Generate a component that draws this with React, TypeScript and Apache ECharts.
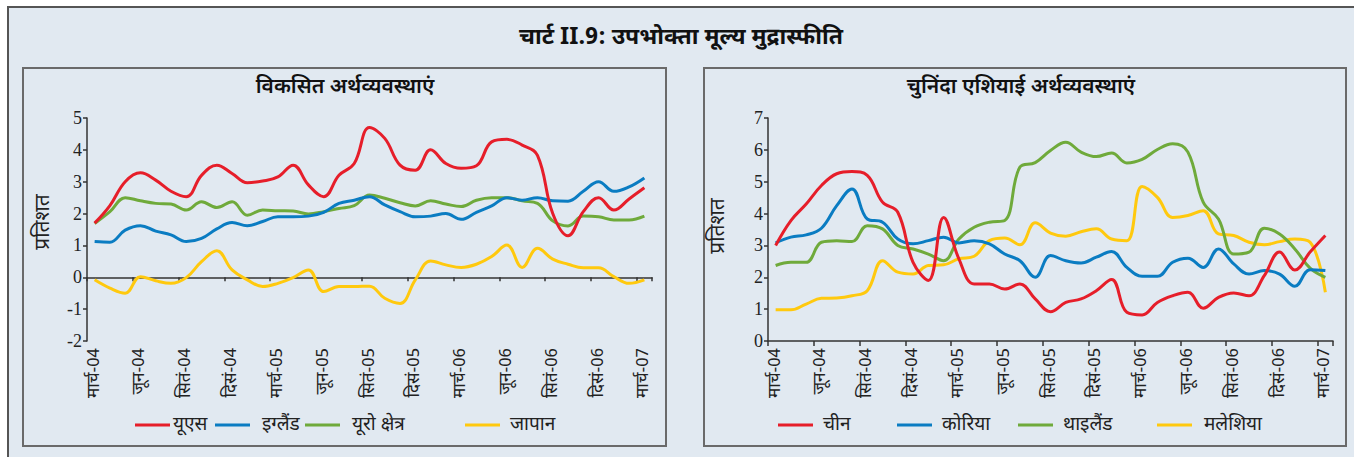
import React, { useEffect, useRef } from "react";
import * as echarts from "echarts";

const months = [
  "मार्च-04", "अप्रै-04", "मई-04", "जून-04", "जुला-04", "अग-04", "सितं-04", "अक्टू-04", "नवं-04", "दिसं-04",
  "जन-05", "फर-05", "मार्च-05", "अप्रै-05", "मई-05", "जून-05", "जुला-05", "अग-05", "सितं-05", "अक्टू-05", "नवं-05", "दिसं-05",
  "जन-06", "फर-06", "मार्च-06", "अप्रै-06", "मई-06", "जून-06", "जुला-06", "अग-06", "सितं-06", "अक्टू-06", "नवं-06", "दिसं-06",
  "जन-07", "फर-07", "मार्च-07",
];

const us = [1.7, 2.25, 3.0, 3.28, 3.05, 2.7, 2.53, 3.2, 3.52, 3.26, 2.97, 3.02, 3.15, 3.52, 2.9, 2.53, 3.2, 3.57, 4.7, 4.36, 3.52, 3.36, 4.0, 3.57, 3.42, 3.5, 4.25, 4.33, 4.15, 3.83, 2.0, 1.3, 2.06, 2.5, 2.11, 2.46, 2.81];
const uk = [1.12, 1.1, 1.48, 1.62, 1.45, 1.33, 1.12, 1.22, 1.52, 1.72, 1.62, 1.75, 1.9, 1.9, 1.92, 2.04, 2.32, 2.42, 2.53, 2.27, 2.06, 1.9, 1.92, 2.0, 1.82, 2.04, 2.24, 2.5, 2.42, 2.5, 2.4, 2.39, 2.7, 3.0, 2.7, 2.84, 3.12];
const euro = [1.69, 2.06, 2.5, 2.4, 2.32, 2.3, 2.11, 2.37, 2.19, 2.37, 1.95, 2.11, 2.09, 2.08, 1.99, 2.06, 2.16, 2.25, 2.58, 2.48, 2.34, 2.24, 2.4, 2.3, 2.22, 2.42, 2.5, 2.5, 2.4, 2.32, 1.77, 1.61, 1.92, 1.9, 1.8, 1.8, 1.92];
const japan = [-0.08, -0.34, -0.5, 0.02, -0.11, -0.19, -0.01, 0.49, 0.83, 0.23, -0.08, -0.29, -0.19, -0.01, 0.23, -0.45, -0.29, -0.29, -0.28, -0.66, -0.82, -0.08, 0.51, 0.39, 0.31, 0.41, 0.65, 1.01, 0.31, 0.91, 0.57, 0.41, 0.3, 0.3, 0.02, -0.19, -0.08];

const china = [3.0, 3.78, 4.3, 4.88, 5.25, 5.32, 5.2, 4.36, 4.04, 2.47, 1.9, 3.88, 2.58, 1.79, 1.79, 1.63, 1.79, 1.32, 0.92, 1.21, 1.32, 1.58, 1.93, 0.9, 0.82, 1.21, 1.42, 1.53, 1.03, 1.37, 1.51, 1.42, 2.05, 2.79, 2.23, 2.79, 3.31];
const korea = [3.08, 3.26, 3.33, 3.54, 4.25, 4.77, 3.83, 3.73, 3.2, 3.05, 3.15, 3.26, 3.08, 3.15, 3.05, 2.73, 2.52, 2.0, 2.68, 2.52, 2.45, 2.63, 2.81, 2.31, 2.03, 2.03, 2.47, 2.6, 2.31, 2.89, 2.42, 2.1, 2.21, 2.1, 1.72, 2.24, 2.21];
const thailand = [2.37, 2.47, 2.47, 3.1, 3.15, 3.12, 3.62, 3.52, 3.0, 2.89, 2.73, 2.52, 3.2, 3.57, 3.73, 3.78, 5.46, 5.6, 5.98, 6.24, 5.93, 5.79, 5.9, 5.59, 5.7, 6.01, 6.19, 5.93, 4.36, 3.83, 2.73, 2.79, 3.54, 3.36, 2.89, 2.29, 2.0];
const malaysia = [0.98, 0.98, 1.16, 1.34, 1.35, 1.42, 1.58, 2.52, 2.16, 2.1, 2.37, 2.39, 2.58, 2.66, 3.15, 3.23, 3.02, 3.71, 3.39, 3.29, 3.43, 3.52, 3.2, 3.15, 4.85, 4.51, 3.88, 3.94, 4.09, 3.36, 3.31, 3.1, 3.02, 3.12, 3.2, 3.1, 1.53];

const leftNames = ["यूएस", "इग्लैंड", "यूरो क्षेत्र", "जापान"];
const rightNames = ["चीन", "कोरिया", "थाइलैंड", "मलेशिया"];
const leftTicks = [-2, 5, 1];
const rightTicks = [0, 7, 1];

const mainTitle = "चार्ट II.9: उपभोक्ता मूल्य मुद्रास्फीति";
const leftTitle = "विकसित अर्थव्यवस्थाएं";
const rightTitle = "चुनिंदा एशियाई अर्थव्यवस्थाएं";
const yName = "प्रतिशत";

const COLORS = ["#e61e2a", "#0a7cc2", "#6faa3b", "#ffc90e"];
const BG = "#e1e9f1";
const DEV = "'Noto Sans Devanagari', 'Lohit Devanagari', 'FreeSerif', 'Noto Serif Devanagari', 'Noto Sans', sans-serif";
const SERIF = "'Liberation Serif', 'DejaVu Serif', serif";

export default function App() {
  const ref = useRef<HTMLDivElement>(null);
  useEffect(() => {
    if (!ref.current) return;
    const chart = echarts.init(ref.current, undefined, { renderer: "svg" });

    const grids = [
      { left: 87, top: 118, width: 565, height: 223 },
      { left: 768, top: 118, width: 565, height: 223 },
    ];

    const labelAxis = (gridIndex: number, showLine: boolean) => ({
      type: "category",
      gridIndex,
      data: months,
      boundaryGap: true,
      position: "bottom",
      axisLine: { show: showLine, onZero: false, lineStyle: { color: "#333", width: 1.5 } },
      axisTick: { show: showLine, interval: 2, length: 5, lineStyle: { color: "#333", width: 1.5 } },
      axisLabel: {
        interval: 2,
        rotate: 90,
        margin: 7,
        color: "#222",
        fontFamily: DEV,
        fontSize: 17,
      },
      splitLine: { show: false },
    });

    const valueAxis = (gridIndex: number, t: number[]) => ({
      type: "value",
      gridIndex,
      min: t[0],
      max: t[1],
      interval: t[2],
      axisLine: { show: true, lineStyle: { color: "#333", width: 1.5 } },
      axisTick: { show: true, length: 4, lineStyle: { color: "#333", width: 1.5 } },
      axisLabel: { color: "#222", fontFamily: SERIF, fontSize: 18, margin: 5 },
      splitLine: { show: false },
    });

    const mkSeries = (names: string[], datas: number[][], xAxisIndex: number, yAxisIndex: number) =>
      names.map((n, i) => ({
        type: "line",
        name: n,
        data: datas[i],
        xAxisIndex,
        yAxisIndex,
        smooth: 0.4,
        symbol: "none",
        lineStyle: { width: 3, color: COLORS[i] },
        itemStyle: { color: COLORS[i] },
        z: 10 - i,
      }));

    const legendX = [
      [135, 215, 305, 465],
      [778, 897, 1018, 1157],
    ];
    const legendTextPad = [
      [3, 12, 12, 10],
      [10, 10, 10, 12],
    ];
    const legends: any[] = [];
    [leftNames, rightNames].forEach((names, p) => {
      names.forEach((n, i) => {
        legends.push({
          data: [n],
          left: legendX[p][i],
          top: 414,
          icon: "rect",
          itemWidth: 35,
          itemHeight: 3,
          itemGap: 0,
          padding: 0,
          textStyle: { color: "#222", fontFamily: DEV, fontSize: 19, lineHeight: 22, padding: [0, 0, 0, legendTextPad[p][i] - 5] },
        });
      });
    });

    const option: any = {
      animation: false,
      backgroundColor: "#ffffff",
      graphic: [
        {
          type: "rect",
          shape: { x: 8, y: 7, width: 1360, height: 470 },
          style: { fill: BG, stroke: "#555", lineWidth: 2 },
          z: -10,
        },
        {
          type: "rect",
          shape: { x: 23, y: 68, width: 643, height: 378 },
          style: { fill: "none", stroke: "#6a6a6a", lineWidth: 2 },
          z: -9,
        },
        {
          type: "rect",
          shape: { x: 704, y: 68, width: 642, height: 378 },
          style: { fill: "none", stroke: "#6a6a6a", lineWidth: 2 },
          z: -9,
        },
        {
          type: "text",
          x: 681,
          y: 38,
          style: { text: mainTitle, fill: "#111", font: `bold 23px ${DEV}`, align: "center", verticalAlign: "middle" },
        },
        {
          type: "text",
          x: 345,
          y: 88,
          style: { text: leftTitle, fill: "#111", font: `600 21px ${DEV}`, align: "center", verticalAlign: "middle" },
        },
        {
          type: "text",
          x: 1021,
          y: 88,
          style: { text: rightTitle, fill: "#111", font: `600 21px ${DEV}`, align: "center", verticalAlign: "middle" },
        },
        {
          type: "text",
          x: 44,
          y: 222,
          rotation: Math.PI / 2,
          style: { text: yName, fill: "#222", font: `21px ${DEV}`, align: "center", verticalAlign: "middle" },
        },
        {
          type: "text",
          x: 719,
          y: 226,
          rotation: Math.PI / 2,
          style: { text: yName, fill: "#222", font: `21px ${DEV}`, align: "center", verticalAlign: "middle" },
        },
      ],
      grid: grids,
      xAxis: [
        {
          type: "category",
          gridIndex: 0,
          data: months,
          boundaryGap: true,
          position: "top",
          axisLine: { show: true, onZero: true, lineStyle: { color: "#333", width: 1.5 } },
          axisTick: { show: true, inside: true, interval: 2, length: 4, lineStyle: { color: "#333", width: 1.5 } },
          axisLabel: { show: false },
          splitLine: { show: false },
        },
        labelAxis(0, false),
        labelAxis(1, true),
      ],
      yAxis: [valueAxis(0, leftTicks), valueAxis(1, rightTicks)],
      legend: legends,
      series: [
        ...mkSeries(leftNames, [us, uk, euro, japan], 0, 0),
        ...mkSeries(rightNames, [china, korea, thailand, malaysia], 2, 1),
      ],
    };
    chart.setOption(option);
    return () => chart.dispose();
  }, []);

  return (
    <div
      ref={ref}
      style={{ position: "fixed", left: 0, top: 0, width: 1354, height: 457 }}
    />
  );
}
